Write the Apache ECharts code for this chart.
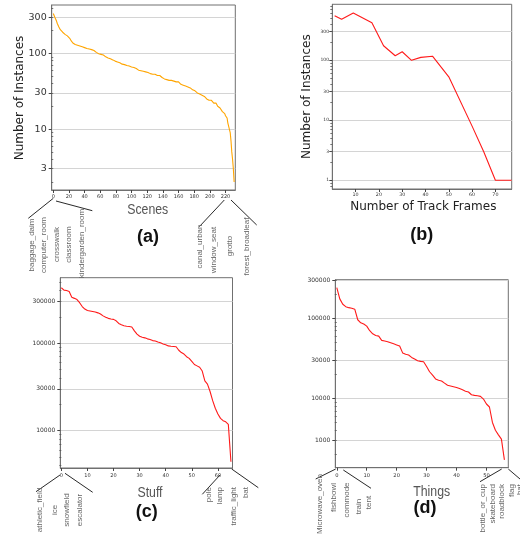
<!DOCTYPE html>
<html>
<head>
<meta charset="utf-8">
<script src="https://cdn.jsdelivr.net/npm/echarts@6/dist/echarts.min.js"></script>
<style>
html, body { margin: 0; padding: 0; background: #fff; }
#chart { width: 520px; height: 535px; }
</style>
</head>
<body>
<div id="chart"></div>
<script>
// (a) number of instances per scene, sorted
const sceneCounts = [
  336, 320, 300, 285, 270, 250, 236, 225, 215, 205, 198, 193, 190, 186, 182, 178, 176, 174, 170, 166,
  162, 158, 152, 146, 141, 137, 135, 133, 131, 130, 129, 128, 127, 126, 125, 124, 123, 122, 121, 120,
  119, 118, 117, 116, 115, 115, 114, 113, 112, 112, 111, 111, 109, 107, 105, 103, 101, 100, 99, 98,
  97, 97, 96, 95, 95, 93, 92, 90, 89, 88, 87, 86, 86, 85, 84, 83, 82, 81, 80, 79,
  78, 78, 77, 76, 75, 75, 74, 73, 72, 72, 71, 71, 70, 70, 69, 69, 68, 68, 68, 67,
  66, 66, 65, 65, 64, 63, 63, 62, 61, 60, 60, 59, 59, 58, 58, 58, 57, 57, 57, 56,
  56, 56, 55, 55, 54, 54, 54, 53, 53, 53, 53, 52, 52, 51, 51, 51, 51, 50, 49, 48,
  47, 47, 46, 46, 45, 45, 45, 44, 44, 44, 44, 44, 43, 43, 43, 43, 42, 42, 42, 42,
  42, 41, 40, 39, 39, 38, 38, 38, 37, 37, 37, 36, 36, 36, 35, 35, 34, 34, 33, 33,
  32, 32, 31, 31, 30, 30, 30, 29, 29, 28, 28, 28, 27, 27, 26, 26, 25, 25, 25, 24,
  24, 24, 24, 23, 23, 22, 22, 22, 22, 21, 20, 20, 19, 19, 18, 18, 17, 17, 17, 16,
  15, 15, 14, 12, 12, 12, 9, 7, 5, 4, 3, 2
];
// (b) number of instances by track length
const trackFrames = [1, 4, 9, 17, 22, 27, 30, 34, 38, 43, 50, 60, 65, 70, 77];
const trackCounts = [555, 483, 614, 424, 175, 119, 139, 100, 112, 117, 53, 8, 3, 1, 1];
// (c) stuff classes, sorted
const stuffCounts = [
  430000, 404000, 400000, 390000, 335000, 325000, 315000, 290000, 262000, 245000,
  236000, 233000, 230000, 227000, 222000, 215000, 205000, 198000, 192000, 189000,
  187000, 180000, 168000, 162000, 158000, 156000, 155000, 153000, 138000, 127000,
  120000, 117000, 115000, 112000, 110000, 107000, 106000, 103000, 101000, 98000,
  96000, 93000, 92000, 91500, 91000, 83000, 78000, 75000, 70000, 67000,
  62000, 57000, 55000, 53000, 48000, 37000, 34000, 28000, 22000, 18000,
  15500, 13800, 13000, 12600, 11800, 4400
];
// (d) things classes, sorted
const thingsCounts = [
  242000, 175000, 150000, 140000, 136000, 134000, 130000, 96000, 88000, 85000,
  80000, 70000, 64000, 61000, 60000, 53000, 52000, 51000, 49500, 48000,
  46500, 45000, 37000, 35500, 34800, 32500, 31000, 29500, 29000, 28700,
  25000, 21500, 19500, 17500, 16800, 16500, 15500, 14600, 14300, 14000,
  13700, 13300, 12800, 12300, 12000, 11100, 10900, 10800, 10600, 9800,
  8500, 7800, 5000, 4000, 3500, 3100, 1700
];

// tick values / labels
const sceneTicks = [0, 20, 40, 60, 80, 100, 120, 140, 160, 180, 200, 220];
const instTicksA = [3, 10, 30, 100, 300];
const frameTicks = [10, 20, 30, 40, 50, 60, 70];
const instTicksB = [1, 3, 10, 30, 100, 300];
const stuffTicks = [0, 10, 20, 30, 40, 50, 60];
const instTicksC = [10000, 30000, 100000, 300000];
const thingsTicks = [0, 10, 20, 30, 40, 50];
const instTicksD = [3000, 10000, 30000, 100000, 300000];
const instLabelsD = ['1000', '10000', '30000', '100000', '300000'];

// category names written under the axes
const sceneHead = ['baggage_daim', 'computer_room', 'crosswalk', 'classroom', 'kindergarden_room'];
const sceneTail = ['canal_urban', 'window_seat', 'grotto', 'forest_broadleaf'];
const stuffHead = ['athletic_field', 'ice', 'snowfield', 'escalator'];
const stuffTail = ['pole', 'lamp', 'traffic_light', 'bat'];
const thingsHead = ['Microwave_oven', 'fishbowl', 'commode', 'train', 'tent'];
const thingsTail = ['bottle_or_cup', 'skateboard', 'roadblock', 'flag', 'bat'];

const frameColor = '#707070';
const tickText = '#333';
const lib = '"Liberation Sans", Arial, sans-serif';

// log-axis minor ticks (2..9 x 10^k) inside [min, max]
function minorTicks(min, max) {
  const out = [];
  for (let p = Math.floor(Math.log10(min)); p <= Math.ceil(Math.log10(max)); p++) {
    for (let m = 2; m <= 9; m++) {
      const v = m * Math.pow(10, p);
      if (v >= min && v <= max) out.push(v);
    }
  }
  return out;
}

function mkGrid(l, t, w, h) {
  return { left: l, top: t, width: w, height: h, show: true, borderColor: frameColor, borderWidth: 1,
    containLabel: false, outerBoundsMode: 'none' };
}
function mkX(gi, min, max, ticks, fs, margin) {
  return {
    type: 'value', gridIndex: gi, min: min, max: max,
    axisLine: { show: true, onZero: false, lineStyle: { color: frameColor } },
    axisTick: { show: true, length: 3, customValues: ticks, lineStyle: { color: '#444' } },
    axisLabel: { customValues: ticks, fontSize: fs, color: tickText, margin: margin, fontFamily: 'DejaVu Sans' },
    splitLine: { show: false }
  };
}
function mkY(gi, min, max, ticks, fs, margin, labels) {
  return {
    type: 'log', logBase: 10, gridIndex: gi, min: min, max: max,
    axisLine: { show: true, onZero: false, lineStyle: { color: frameColor } },
    axisTick: { show: true, length: 3, customValues: ticks, lineStyle: { color: '#444' } },
    axisLabel: {
      customValues: ticks, fontSize: fs, color: tickText, margin: margin, fontFamily: 'DejaVu Sans',
      formatter: function (v) {
        if (!labels) return String(Math.round(v));
        const i = ticks.findIndex(t => Math.abs(t - v) / t < 1e-6);
        return i >= 0 ? labels[i] : '';
      }
    },
    splitLine: { show: true, lineStyle: { color: '#d4d4d4', width: 1 } }
  };
}
// second y axis on the same grid, only for the small minor ticks
function mkMinor(gi, min, max) {
  return {
    type: 'log', logBase: 10, gridIndex: gi, min: min, max: max, position: 'left',
    axisLine: { show: false },
    axisTick: { show: true, length: 2, customValues: minorTicks(min, max), lineStyle: { color: '#555', width: 0.8 } },
    axisLabel: { show: false },
    splitLine: { show: false }
  };
}
function mkLine(xi, xs, ys, color) {
  return {
    type: 'line', xAxisIndex: xi, yAxisIndex: xi,
    data: ys.map((v, i) => [xs ? xs[i] : i, v]),
    symbol: 'none', showSymbol: false, silent: true,
    lineStyle: { color: color, width: 1.1 }
  };
}

const graphic = [];
function seg(x1, y1, x2, y2) {
  graphic.push({ type: 'line', shape: { x1: x1, y1: y1, x2: x2, y2: y2 }, style: { stroke: '#111', lineWidth: 0.9 }, silent: true });
}
function txt(s, x, y, font, color, rot, align, sx) {
  graphic.push({ type: 'text', x: x, y: y, rotation: rot || 0, scaleX: sx || 1, silent: true,
    style: { text: s, font: font, fill: color, align: align || 'center', verticalAlign: 'middle' } });
}
// rotated names: centred at y, or hanging from a top y
function names(list, xs, y, mode) {
  list.forEach((s, i) => {
    if (mode === 'top') txt(s, xs[i], y, '8px ' + lib, '#666', Math.PI / 2, 'right');
    else txt(s, xs[i], Array.isArray(y) ? y[i] : y, '8px ' + lib, '#666', Math.PI / 2, 'center');
  });
}

// connector lines
seg(53.3, 198.3, 28.3, 218.3); seg(56, 201, 92.3, 210.7);
seg(224.3, 200, 199.3, 226.7); seg(231, 200, 256.7, 225);
seg(60, 475, 36, 491.7); seg(65, 473.3, 92.7, 492.3);
seg(220, 475, 202.3, 494.3); seg(231.7, 469, 258.3, 487.7);
seg(335.7, 469, 315.7, 479); seg(343.3, 470, 371, 488.3);
seg(501.7, 469, 480, 481.7); seg(508.3, 469, 520, 479);

names(sceneHead, [31.7, 43.3, 56.7, 69, 81.7], [245, 245, 244.5, 244.5, 243.5]);
names(sceneTail, [200, 213.3, 230, 246.7], [246.5, 250, 246, 246.5]);
names(stuffHead, [40, 54.3, 66.7, 79.3], 510);
names(stuffTail, [208.3, 220, 233.3, 245.7], 487, 'top');
names(thingsHead, [320, 333.3, 346.7, 358.3, 369], [504, 497.5, 500, 506.5, 502.5]);
names(thingsTail, [482.7, 492.7, 501.7, 511.7, 520], 484, 'top');

// axis titles and panel letters
const dv = '"DejaVu Sans", sans-serif';
txt('Number of Instances', 20, 98, '12px ' + dv, '#222', Math.PI / 2);
txt('Number of Instances', 306.7, 96.7, '12px ' + dv, '#222', Math.PI / 2);
txt('Number of Track Frames', 423.3, 206.7, '12px ' + dv, '#222');
txt('Scenes', 147.7, 210, '15px ' + lib, '#555', 0, 'center', 0.82);
txt('Stuff', 150, 493.3, '15px ' + lib, '#555', 0, 'center', 0.82);
txt('Things', 431.7, 491.7, '15px ' + lib, '#555', 0, 'center', 0.82);
const bold = 'bold 18px ' + lib;
txt('(a)', 148, 237, bold, '#111');
txt('(b)', 421.7, 235, bold, '#111');
txt('(c)', 146.7, 511.7, bold, '#111');
txt('(d)', 425, 508.3, bold, '#111');

const yRanges = [[1.57, 435], [0.716, 858], [3740, 560000], [1360, 304000]];

const chart = echarts.init(document.getElementById('chart'), null, { renderer: 'canvas' });
chart.setOption({
  animation: false,
  backgroundColor: '#fff',
  grid: [
    mkGrid(51.7, 5, 183.6, 185),
    mkGrid(332.3, 4.3, 179.4, 184.7),
    mkGrid(60.3, 277.7, 172.2, 190.3),
    mkGrid(335.3, 279.7, 173, 188)
  ],
  xAxis: [
    mkX(0, -2, 232.5, sceneTicks, 5, 4.5),
    mkX(1, 0, 77, frameTicks, 4.8, 3),
    mkX(2, -0.4, 65.6, stuffTicks, 5, 5),
    mkX(3, -0.5, 57.3, thingsTicks, 5.2, 5.5)
  ],
  yAxis: [
    mkY(0, yRanges[0][0], yRanges[0][1], instTicksA, 9.5, 5),
    mkY(1, yRanges[1][0], yRanges[1][1], instTicksB, 4.5, 3.3),
    mkY(2, yRanges[2][0], yRanges[2][1], instTicksC, 6, 5),
    mkY(3, yRanges[3][0], yRanges[3][1], instTicksD, 6, 5, instLabelsD),
    mkMinor(0, yRanges[0][0], yRanges[0][1]),
    mkMinor(1, yRanges[1][0], yRanges[1][1]),
    mkMinor(2, yRanges[2][0], yRanges[2][1]),
    mkMinor(3, yRanges[3][0], yRanges[3][1])
  ],
  series: [
    mkLine(0, null, sceneCounts, '#FFA500'),
    mkLine(1, trackFrames, trackCounts, '#FF1A1A'),
    mkLine(2, null, stuffCounts, '#FF1A1A'),
    mkLine(3, null, thingsCounts, '#FF1A1A')
  ],
  graphic: graphic
});
</script>
</body>
</html>
